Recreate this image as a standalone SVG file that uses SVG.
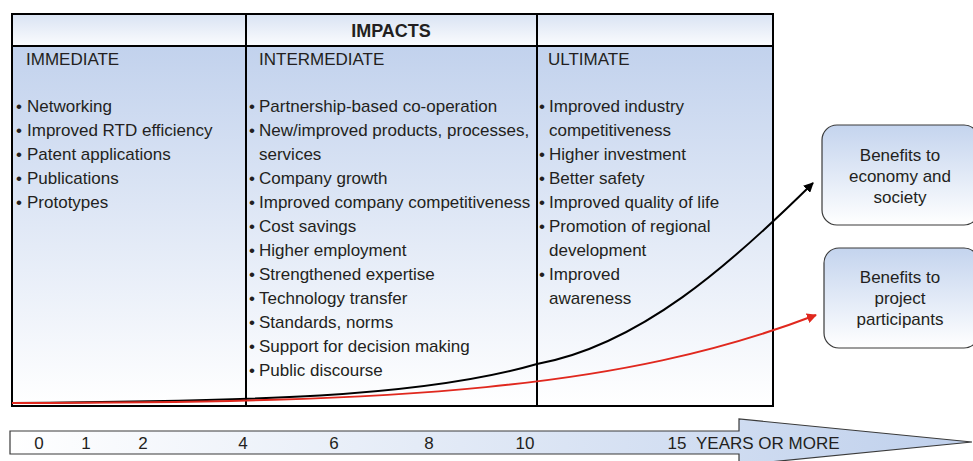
<svg xmlns="http://www.w3.org/2000/svg" width="973" height="461" viewBox="0 0 973 461">
<defs>
<linearGradient id="gBody" x1="0" y1="0" x2="0" y2="1">
<stop offset="0" stop-color="#c2d2ed"/>
<stop offset="1" stop-color="#ffffff"/>
</linearGradient>
<linearGradient id="gHead" x1="0" y1="0" x2="0" y2="1">
<stop offset="0" stop-color="#d9e3f3"/>
<stop offset="1" stop-color="#fbfcfe"/>
</linearGradient>
<linearGradient id="gBox" x1="0" y1="0" x2="0" y2="1">
<stop offset="0" stop-color="#c4d4ee"/>
<stop offset="1" stop-color="#ffffff"/>
</linearGradient>
<linearGradient id="gTime" x1="0" y1="0" x2="1" y2="0">
<stop offset="0" stop-color="#ffffff"/>
<stop offset="1" stop-color="#bfd0ec"/>
</linearGradient>
<marker id="mBlack" viewBox="0 0 10 10" refX="9" refY="5" markerWidth="10" markerHeight="10" markerUnits="userSpaceOnUse" orient="auto">
<path d="M0,0 L10,5 L0,10 Z" fill="#000"/>
</marker>
<marker id="mRed" viewBox="0 0 10 10" refX="9" refY="5" markerWidth="10" markerHeight="10" markerUnits="userSpaceOnUse" orient="auto">
<path d="M0,0 L10,5 L0,10 Z" fill="#e0281e"/>
</marker>
</defs>
<style>
text{font-family:"Liberation Sans",Arial,sans-serif;font-size:17px;fill:#231f20}
.b{font-weight:bold;font-size:18px}
.c{text-anchor:middle}
.grid{stroke:#000;stroke-width:2;fill:none}
.box{fill:url(#gBox);stroke:#3a3a3a;stroke-width:1.2}
</style>
<g id="table">
<rect x="12" y="14" width="761" height="32" fill="url(#gHead)"/>
<rect x="12" y="46" width="761" height="360" fill="url(#gBody)"/>
<rect x="12" y="14" width="761" height="392" class="grid"/>
<line x1="12" y1="46" x2="773" y2="46" class="grid"/>
<line x1="246" y1="14" x2="246" y2="406" class="grid"/>
<line x1="537" y1="14" x2="537" y2="406" class="grid"/>
<text x="391" y="37" class="b c">IMPACTS</text>
</g>
<g id="immediate">
<text x="26" y="65">IMMEDIATE</text>
<text x="16" y="112">•</text><text x="27" y="112">Networking</text>
<text x="16" y="136">•</text><text x="27" y="136">Improved RTD efficiency</text>
<text x="16" y="160">•</text><text x="27" y="160">Patent applications</text>
<text x="16" y="184">•</text><text x="27" y="184">Publications</text>
<text x="16" y="208">•</text><text x="27" y="208">Prototypes</text>
</g>
<g id="intermediate">
<text x="259" y="65">INTERMEDIATE</text>
<text x="249" y="112">•</text><text x="259" y="112">Partnership-based co-operation</text>
<text x="249" y="136">•</text><text x="259" y="136">New/improved products, processes,</text>
<text x="259" y="160">services</text>
<text x="249" y="184">•</text><text x="259" y="184">Company growth</text>
<text x="249" y="208">•</text><text x="259" y="208">Improved company competitiveness</text>
<text x="249" y="232">•</text><text x="259" y="232">Cost savings</text>
<text x="249" y="256">•</text><text x="259" y="256">Higher employment</text>
<text x="249" y="280">•</text><text x="259" y="280">Strengthened expertise</text>
<text x="249" y="304">•</text><text x="259" y="304">Technology transfer</text>
<text x="249" y="328">•</text><text x="259" y="328">Standards, norms</text>
<text x="249" y="352">•</text><text x="259" y="352">Support for decision making</text>
<text x="249" y="376">•</text><text x="259" y="376">Public discourse</text>
</g>
<g id="ultimate">
<text x="548" y="65">ULTIMATE</text>
<text x="539" y="112">•</text><text x="549" y="112">Improved industry</text>
<text x="549" y="136">competitiveness</text>
<text x="539" y="160">•</text><text x="549" y="160">Higher investment</text>
<text x="539" y="184">•</text><text x="549" y="184">Better safety</text>
<text x="539" y="208">•</text><text x="549" y="208">Improved quality of life</text>
<text x="539" y="232">•</text><text x="549" y="232">Promotion of regional</text>
<text x="549" y="256">development</text>
<text x="539" y="280">•</text><text x="549" y="280">Improved</text>
<text x="549" y="304">awareness</text>
</g>
<g id="timeline">
<path d="M10,431 L739,431 L739,419 L972,442 L739,465 L739,454 L10,454 Z" fill="url(#gTime)" stroke="#3a3a3a" stroke-width="1.2"/>
<text x="39" y="449" class="c">0</text>
<text x="86" y="449" class="c">1</text>
<text x="143" y="449" class="c">2</text>
<text x="243" y="449" class="c">4</text>
<text x="334" y="449" class="c">6</text>
<text x="429" y="449" class="c">8</text>
<text x="525" y="449" class="c">10</text>
<text x="677" y="449" class="c">15</text>
<text x="696" y="449">YEARS OR MORE</text>
</g>
<g id="economy">
<rect x="822" y="125" width="157" height="100" rx="15" class="box"/>
<text x="900" y="161" class="c">Benefits to</text>
<text x="900" y="182" class="c">economy and</text>
<text x="900" y="203" class="c">society</text>
</g>
<g id="participants">
<rect x="824" y="248" width="155" height="100" rx="15" class="box"/>
<text x="900" y="283" class="c">Benefits to</text>
<text x="900" y="304" class="c">project</text>
<text x="900" y="325" class="c">participants</text>
</g>
<g id="connectors" fill="none" stroke-width="2">
<path d="M12,403 C250,401 420,398 537,364 C640,345 730,265 813,183" stroke="#000" marker-end="url(#mBlack)"/>
<path d="M12,403 C400,403 620,390 816,315" stroke="#e0281e" marker-end="url(#mRed)"/>
</g>
</svg>
